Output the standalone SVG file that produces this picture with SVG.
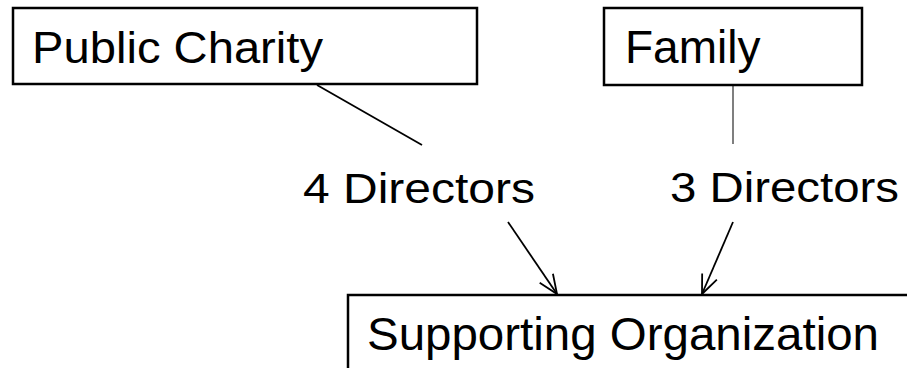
<svg xmlns="http://www.w3.org/2000/svg" width="907" height="368" viewBox="0 0 907 368">
<style>
.box{fill:#fff;stroke:#000;stroke-width:2.5}
.t{font-family:"Liberation Sans",Arial,sans-serif;fill:#000}
.c{stroke:#000;stroke-width:1.8;fill:none}
</style>
<defs>
<marker id="ah" markerUnits="userSpaceOnUse" markerWidth="30" markerHeight="30" viewBox="-25 -15 30 30" refX="0" refY="0" orient="auto">
<path d="M-19,-8 L0,0 L-19,8" fill="none" stroke="#000" stroke-width="1.8"/>
</marker>
</defs>
<rect width="907" height="368" fill="#fff"/>
<g id="connectors">
<line class="c" x1="317" y1="85" x2="422" y2="145"/>
<line x1="733" y1="86" x2="733" y2="144" stroke="#555" stroke-width="1.5"/>
<line class="c" x1="508" y1="222" x2="557" y2="294" marker-end="url(#ah)"/>
<line class="c" x1="733" y1="222" x2="702" y2="294" marker-end="url(#ah)"/>
</g>
<g id="public-charity">
<rect class="box" x="13" y="8" width="464" height="76"/>
<text class="t" x="32" y="63" font-size="45" textLength="291" lengthAdjust="spacingAndGlyphs">Public Charity</text>
</g>
<g id="family">
<rect class="box" x="604" y="8" width="258" height="77"/>
<text class="t" x="625" y="63" font-size="46">Family</text>
</g>
<g id="label-4">
<text class="t" x="303" y="203" font-size="42" textLength="232" lengthAdjust="spacingAndGlyphs">4 Directors</text>
</g>
<g id="label-3">
<text class="t" x="670" y="202" font-size="42" textLength="229" lengthAdjust="spacingAndGlyphs">3 Directors</text>
</g>
<g id="supporting-organization">
<rect class="box" x="348" y="295" width="620" height="120"/>
<text class="t" x="367" y="350" font-size="46" textLength="512" lengthAdjust="spacingAndGlyphs">Supporting Organization</text>
</g>
</svg>
